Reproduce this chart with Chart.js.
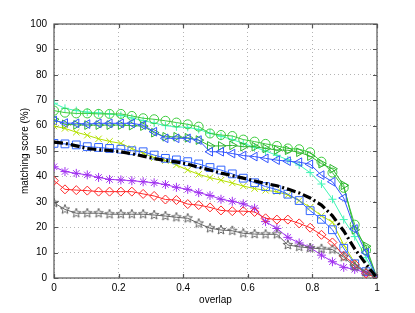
<!DOCTYPE html>
<html>
<head>
<meta charset="utf-8">
<script src="https://cdn.jsdelivr.net/npm/chart.js@4.4.0/dist/chart.umd.min.js"></script>
<style>
html, body { margin: 0; padding: 0; background: #fff; }
#wrap { width: 415px; height: 313px; }
</style>
</head>
<body>
<div id="wrap"><canvas id="c" width="415" height="313"></canvas></div>
<script>
const overlap = [0, 0.034, 0.069, 0.103, 0.138, 0.172, 0.207, 0.241, 0.276, 0.310,
    0.345, 0.379, 0.414, 0.448, 0.483, 0.517, 0.552, 0.586, 0.621, 0.655,
    0.690, 0.724, 0.759, 0.793, 0.828, 0.862, 0.897, 0.931, 0.966, 1];

const cyanPlus = [68.8, 66.8, 65.9, 65.3, 65.0, 64.6, 64.0, 63.0, 62.0, 61.0, 60.0, 59.5, 59.3, 58.5, 57.0,
    55.8, 54.5, 53.0, 51.5, 50.0, 48.3, 46.5, 44.5, 41.5, 37.0, 31.0, 23.0, 16.3, 8.0, 0];
const greenCircle = [65.9, 65.1, 64.8, 64.8, 64.6, 64.6, 64.6, 63.8, 62.9, 62.5, 61.9, 61.2, 60.5, 59.6, 56.9,
    56.3, 55.9, 54.5, 53.7, 52.8, 52.0, 51.0, 50.7, 49.5, 45.8, 41.5, 35.5, 21.0, 11.0, 0];
const greenTriRight = [62.5, 60.5, 60.3, 60.2, 60.2, 60.2, 60.2, 60.0, 59.8, 57.2, 55.6, 55.6, 55.2, 54.3, 52.0,
    52.0, 52.2, 51.7, 51.7, 51.0, 50.4, 50.3, 49.5, 48.0, 45.0, 43.0, 36.5, 19.0, 12.5, 0];
const blueTriLeft = [62.0, 61.0, 60.9, 60.6, 60.9, 60.9, 60.9, 60.9, 60.2, 57.6, 55.0, 55.0, 55.0, 54.3, 49.7,
    49.7, 49.0, 48.2, 47.8, 47.1, 46.4, 46.0, 45.6, 44.8, 40.5, 37.9, 31.5, 19.3, 10.0, 0];
const yellowX = [59.8, 58.9, 57.4, 56.2, 54.8, 53.8, 53.0, 51.0, 49.2, 47.3, 46.2, 44.5, 42.5, 40.8, 39.5,
    38.5, 37.4, 36.2, 35.2, 34.5, 34.0, 32.7, 30.5, 27.8, 24.5, 22.0, 13.0, 6.0, 1.8, 0];
const blueSquare = [53.0, 52.8, 52.4, 51.7, 51.4, 51.0, 50.7, 50.1, 49.7, 48.4, 47.1, 46.5, 45.8, 44.9, 43.5,
    42.5, 41.0, 39.3, 37.5, 36.0, 34.8, 33.0, 30.5, 26.5, 23.1, 19.0, 11.7, 5.6, 2.5, 0];
const blackDashDot = [53.5, 53.0, 52.0, 51.0, 50.5, 50.2, 49.7, 48.9, 48.0, 47.0, 46.3, 45.7, 44.8, 43.6, 42.5,
    41.3, 40.3, 39.3, 38.2, 37.2, 36.3, 35.0, 33.5, 31.5, 28.7, 24.5, 18.5, 11.5, 5.5, 0];
const purpleStar = [43.8, 41.9, 41.2, 40.6, 39.6, 38.8, 38.6, 38.3, 37.9, 37.5, 36.8, 35.7, 34.9, 33.6, 32.5,
    31.0, 30.2, 29.2, 27.5, 22.2, 19.5, 16.0, 13.8, 12.0, 9.0, 6.4, 4.2, 3.4, 2.0, 0];
const redDiamond = [38.3, 34.9, 34.6, 34.4, 34.0, 34.0, 34.0, 34.0, 33.1, 32.3, 30.9, 30.7, 29.1, 28.7, 27.8,
    26.6, 26.3, 26.3, 26.0, 23.5, 23.0, 23.0, 21.5, 19.8, 17.0, 14.0, 8.7, 5.4, 1.8, 0];
const greyPentagram = [29.6, 27.0, 25.5, 25.5, 25.5, 25.1, 25.1, 25.1, 25.1, 24.8, 24.4, 23.9, 23.5, 21.5, 19.6,
    18.9, 18.6, 17.6, 17.3, 17.2, 17.2, 13.0, 12.3, 11.8, 11.5, 11.2, 8.2, 4.5, 2.5, 0];

const xTicks = [0, 0.2, 0.4, 0.6, 0.8, 1];
const yTicks = [0, 10, 20, 30, 40, 50, 60, 70, 80, 90, 100];

const FONT = '"Liberation Sans", Arial, Helvetica, sans-serif';
const FRAME = '#555555';

// matlab-ish pentagram marker, chart.js has none
function pentagramMarker(color, r) {
    const s = Math.ceil(r * 2 + 2);
    const cv = document.createElement('canvas'); cv.width = cv.height = s;
    const g = cv.getContext('2d');
    g.strokeStyle = color; g.lineWidth = 1; g.beginPath();
    for (let i = 0; i < 10; i++) {
        const a = -Math.PI / 2 + i * Math.PI / 5;
        const rr = i % 2 ? r * 0.42 : r;
        g.lineTo(s / 2 + rr * Math.cos(a), s / 2 + rr * Math.sin(a));
    }
    g.closePath(); g.stroke();
    return cv;
}

const pts = (ys) => ys.map((y, i) => ({ x: overlap[i], y }));

function series(data, color, style, radius, extra) {
    return Object.assign({
        data: pts(data), borderColor: color, borderWidth: 1,
        pointStyle: style, pointRadius: radius, pointBorderColor: color,
        pointBackgroundColor: 'rgba(0,0,0,0)', pointBorderWidth: 1, tension: 0, fill: false
    }, extra || {});
}

const framePlugin = {
    id: 'matlabFrame',
    beforeDatasetsDraw(chart) {
        const { ctx, chartArea: { left, right, top, bottom }, scales: { x, y } } = chart;
        ctx.save();
        ctx.strokeStyle = FRAME; ctx.lineWidth = 1.2;
        ctx.strokeRect(left, top, right - left, bottom - top);
        ctx.beginPath();
        yTicks.forEach(v => {
            const py = Math.round(y.getPixelForValue(v)) + 0.5;
            ctx.moveTo(left, py); ctx.lineTo(left + 4, py);
            ctx.moveTo(right, py); ctx.lineTo(right - 4, py);
        });
        xTicks.forEach(v => {
            const px = Math.round(x.getPixelForValue(v)) + 0.5;
            ctx.moveTo(px, bottom); ctx.lineTo(px, bottom - 4);
            ctx.moveTo(px, top); ctx.lineTo(px, top + 4);
        });
        ctx.stroke();
        ctx.restore();
    }
};

new Chart(document.getElementById('c'), {
    type: 'line',
    data: {
        datasets: [
            series(blackDashDot, '#000000', 'circle', 0, { borderWidth: 3.2, borderDash: [9, 3, 2, 3] }),
            series(greyPentagram, '#666666', pentagramMarker('#666666', 5), 5),
            series(redDiamond, '#ff2a2a', 'rectRot', 4.5),
            series(purpleStar, '#a030f0', 'star', 4.5),
            series(blueSquare, '#3366ff', 'rect', 5.5),
            series(yellowX, '#b4e000', 'crossRot', 4.5),
            series(blueTriLeft, '#3355ff', 'triangle', 5, { pointRotation: -90 }),
            series(greenTriRight, '#2fb42f', 'triangle', 5, { pointRotation: 90 }),
            series(greenCircle, '#3ccc3c', 'circle', 4.5),
            series(cyanPlus, '#40f5b5', 'cross', 4)
        ]
    },
    options: {
        responsive: false, animation: false, devicePixelRatio: 1,
        layout: { padding: { left: 0, right: 38, top: 24, bottom: 0 } },
        plugins: { legend: { display: false }, tooltip: { enabled: false } },
        scales: {
            x: {
                type: 'linear', min: 0, max: 1,
                afterFit: (s) => { s.height = 35; },
                afterBuildTicks: (s) => { s.ticks = xTicks.map(v => ({ value: v })); },
                ticks: { color: '#000', padding: 4, maxRotation: 0, font: { family: FONT, size: 10 }, callback: (v) => String(v) },
                grid: { color: '#b4b4b4', lineWidth: 1, drawTicks: false },
                border: { display: false, dash: [1, 3] },
                title: { display: true, text: 'overlap', color: '#000', font: { family: FONT, size: 10 }, padding: { top: 0, bottom: 7 } }
            },
            y: {
                min: 0, max: 100,
                afterFit: (s) => { s.width = 54; },
                afterBuildTicks: (s) => { s.ticks = yTicks.map(v => ({ value: v })); },
                ticks: { color: '#000', padding: 7, font: { family: FONT, size: 10 } },
                grid: { color: '#b4b4b4', lineWidth: 1, drawTicks: false },
                border: { display: false, dash: [1, 3] },
                title: { display: true, text: 'matching score (%)', color: '#000', font: { family: FONT, size: 10 }, padding: { top: 19, bottom: 0 } }
            }
        }
    },
    plugins: [framePlugin]
});
</script>
</body>
</html>
